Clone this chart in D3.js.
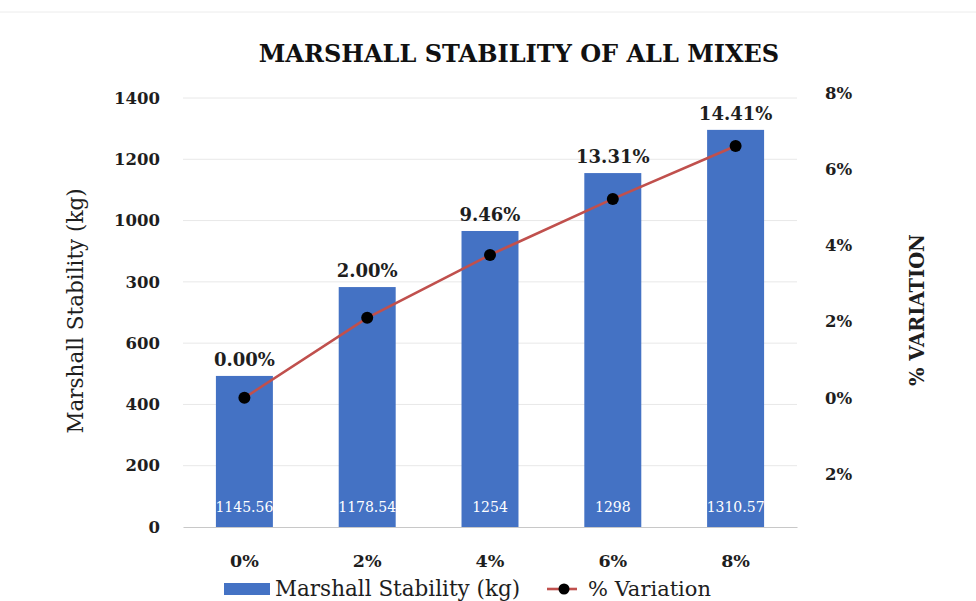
<!DOCTYPE html>
<html><head><meta charset="utf-8">
<script src="https://cdn.jsdelivr.net/npm/d3@7"></script>
<style>body{margin:0;background:#fff;} svg{display:block;}</style>
</head><body>
<svg id="c" width="976" height="601"></svg>
<script>
// Data
const categories = ["0%", "2%", "4%", "6%", "8%"];
const barHeights = [493, 783, 966, 1155, 1296];          // plotted bar heights (left axis)
const barLabels = ["1145.56", "1178.54", "1254", "1298", "1310.57"];
const variation = [0, 2.1, 3.75, 5.22, 6.61];             // plotted line values (right axis, %)
const variationLabels = ["0.00%", "2.00%", "9.46%", "13.31%", "14.41%"];
const leftTicks = [0, 200, 400, 600, 800, 1000, 1200, 1400];
const leftTickLabels = ["0", "200", "400", "600", "300", "1000", "1200", "1400"];
const rightTicks = [8, 6, 4, 2, 0, -2];
const rightTickLabels = ["8%", "6%", "4%", "2%", "0%", "2%"];

const svg = d3.select("#c");
const F = "'DejaVu Serif', serif";
const dark = "#1e1e1e";

// top faint border
svg.append("line").attr("x1", 0).attr("x2", 976).attr("y1", 12).attr("y2", 12)
  .attr("stroke", "#ececec").attr("stroke-width", 1);

const x = d3.scaleBand().domain(categories).range([183, 797]).paddingInner(0.536).paddingOuter(0.268);
const y = d3.scaleLinear().domain([0, 1400]).range([527, 98]);
const y2 = d3.scaleLinear().domain([-2, 8]).range([474, 93]);

// gridlines
svg.append("g").selectAll("line").data(leftTicks.slice(1)).join("line")
  .attr("x1", 183).attr("x2", 797).attr("y1", d => y(d)).attr("y2", d => y(d))
  .attr("stroke", "#e8e8e8").attr("stroke-width", 1);

// left axis
const gL = svg.append("g").attr("transform", "translate(183,0)")
  .call(d3.axisLeft(y).tickValues(leftTicks).tickSize(0).tickPadding(23)
    .tickFormat((d, i) => leftTickLabels[i]));
gL.select(".domain").remove();
gL.selectAll("text").attr("font-family", F).attr("font-weight", "bold")
  .attr("font-size", "16.5px").attr("fill", dark);

// right axis
const gR = svg.append("g").attr("transform", "translate(825,0)")
  .call(d3.axisRight(y2).tickValues(rightTicks).tickSize(0).tickPadding(0)
    .tickFormat((d, i) => rightTickLabels[i]));
gR.select(".domain").remove();
gR.selectAll("text").attr("font-family", F).attr("font-weight", "bold")
  .attr("font-size", "16.5px").attr("fill", dark);

// bars
svg.append("g").selectAll("rect").data(categories).join("rect")
  .attr("x", d => x(d)).attr("width", x.bandwidth())
  .attr("y", (d, i) => y(barHeights[i])).attr("height", (d, i) => y(0) - y(barHeights[i]))
  .attr("fill", "#4472c4");

// x axis
const gX = svg.append("g").attr("transform", "translate(0,527)")
  .call(d3.axisBottom(x).tickSize(0).tickPadding(28));
gX.select(".domain").attr("stroke", "#c8c8c8").attr("stroke-width", 1.2);
gX.selectAll("text").attr("font-family", F).attr("font-weight", "bold")
  .attr("font-size", "17.5px").attr("fill", dark);

// inner bar labels
svg.append("g").selectAll("text").data(categories).join("text")
  .attr("x", d => x(d) + x.bandwidth() / 2).attr("y", 512)
  .attr("text-anchor", "middle").attr("font-family", F).attr("font-size", "14px")
  .attr("fill", "#fff").text((d, i) => barLabels[i]);

// line
const cx = d => x(d) + x.bandwidth() / 2;
svg.append("path").datum(categories)
  .attr("d", d3.line().x(d => cx(d)).y((d, i) => y2(variation[i])))
  .attr("fill", "none").attr("stroke", "#c0504d").attr("stroke-width", 2.6);
svg.append("g").selectAll("circle").data(categories).join("circle")
  .attr("cx", d => cx(d)).attr("cy", (d, i) => y2(variation[i])).attr("r", 6)
  .attr("fill", "#000");

// variation labels above bars
svg.append("g").selectAll("text").data(categories).join("text")
  .attr("x", d => cx(d)).attr("y", (d, i) => y(barHeights[i]) - 10)
  .attr("text-anchor", "middle").attr("font-family", F).attr("font-weight", "bold")
  .attr("font-size", "18px").attr("fill", dark).text((d, i) => variationLabels[i]);

// title
svg.append("text").attr("x", 519).attr("y", 62).attr("text-anchor", "middle")
  .attr("font-family", F).attr("font-weight", "bold").attr("font-size", "24px")
  .attr("fill", "#111").text("MARSHALL STABILITY OF ALL MIXES");

// axis titles
svg.append("text").attr("transform", "translate(83,311) rotate(-90)")
  .attr("text-anchor", "middle").attr("font-family", F).attr("font-size", "21.5px")
  .attr("fill", dark).text("Marshall Stability (kg)");
svg.append("text").attr("transform", "translate(924,310) rotate(-90)")
  .attr("text-anchor", "middle").attr("font-family", F).attr("font-weight", "bold")
  .attr("font-size", "19.5px").attr("fill", dark).text("% VARIATION");

// legend
const lg = svg.append("g");
lg.append("rect").attr("x", 224).attr("y", 583).attr("width", 46).attr("height", 12).attr("fill", "#4472c4");
lg.append("text").attr("x", 275).attr("y", 596).attr("font-family", F).attr("font-size", "21.5px")
  .attr("fill", dark).text("Marshall Stability (kg)");
lg.append("line").attr("x1", 547).attr("x2", 577).attr("y1", 589).attr("y2", 589)
  .attr("stroke", "#c0504d").attr("stroke-width", 2.6);
lg.append("circle").attr("cx", 564).attr("cy", 589).attr("r", 5.5).attr("fill", "#000");
lg.append("text").attr("x", 588).attr("y", 596).attr("font-family", F).attr("font-size", "21px")
  .attr("fill", dark).text("% Variation");
</script>
</body></html>
